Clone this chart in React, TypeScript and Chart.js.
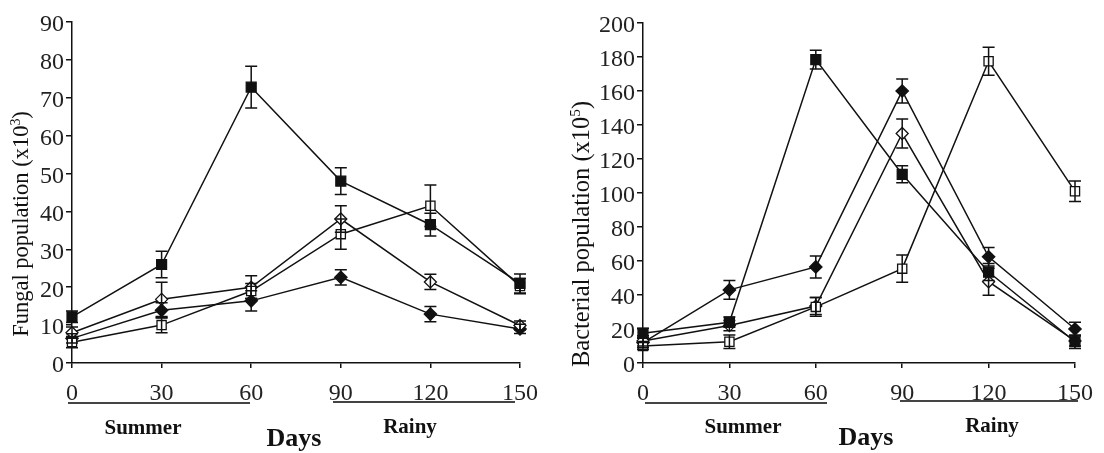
import React, { useEffect, useRef } from 'react';
import { Chart, registerables } from 'chart.js';

Chart.register(...registerables);

// ---------- data ----------
const days = [0, 30, 60, 90, 120, 150];
const dayTicks = [0, 30, 60, 90, 120, 150];

// Fungal population (x10^3)
const fungalYRange = [0, 90, 10];
const fungalSolidSquare = [12.2, 26, 72.8, 48, 36.5, 21];
const fungalSolidSquareErr = [1.5, 3.5, 5.5, 3.5, 3, 2.5];
const fungalOpenSquare = [5.5, 10, 19, 34, 41.5, 20.3];
const fungalOpenSquareErr = [1.5, 2, 2, 4, 5.5, 2];
const fungalOpenDiamond = [8, 16.8, 20, 38, 21.4, 9.9];
const fungalOpenDiamondErr = [1.5, 4.5, 3, 3.5, 2, 1.2];
const fungalSolidDiamond = [6.5, 13.9, 16.4, 22.6, 12.9, 9];
const fungalSolidDiamondErr = [1.2, 2, 2.7, 2, 2, 1.2];

// Bacterial population (x10^5)
const bactYRange = [0, 200, 20];
const bactSolidSquare = [17.5, 24, 178.5, 111, 53.5, 12.5];
const bactSolidSquareErr = [3, 3, 5.5, 5, 5, 4];
const bactOpenSquare = [10, 12.5, 33, 55.5, 177.5, 101];
const bactOpenSquareErr = [2, 4, 5.5, 8, 8.3, 6];
const bactOpenDiamond = [13, 22, 33.5, 135, 47.8, 13];
const bactOpenDiamondErr = [3, 3, 5, 8.5, 8, 3];
const bactSolidDiamond = [12, 43, 56.5, 160, 62.5, 20];
const bactSolidDiamondErr = [3, 5.5, 6.5, 7, 5.5, 4];

const seasonLabels = ['Summer', 'Rainy'];
const xTitle = 'Days';

// ---------- styles ----------
const FONT = "'Liberation Serif', 'DejaVu Serif', serif";
const INK = '#111';

const markerStyles = [
  { pointStyle: 'rect', radius: 7, fill: INK },
  { pointStyle: 'rect', radius: 6.5, fill: '#fff' },
  { pointStyle: 'rectRot', radius: 6, fill: '#fff' },
  { pointStyle: 'rectRot', radius: 6.2, fill: INK },
];

type Decor = {
  titleMain: string;
  titleSup: string;
  titleTail: string;
  titleX: number;
  titleCY: number;
  titleSize: number;
  underlines: { x1: number; x2: number; y: number }[];
  labels: { text: string; x: number; y: number; size: number }[];
};

type PanelSpec = {
  yRange: number[];
  series: number[][];
  errors: number[][];
  axisLeft: number;
  padRight: number;
  padTop: number;
  decor: Decor;
};

const panels: { left: number; spec: PanelSpec }[] = [
  {
    left: 0,
    spec: {
      yRange: fungalYRange,
      series: [fungalSolidSquare, fungalOpenSquare, fungalOpenDiamond, fungalSolidDiamond],
      errors: [fungalSolidSquareErr, fungalOpenSquareErr, fungalOpenDiamondErr, fungalSolidDiamondErr],
      axisLeft: 72,
      padRight: 32,
      padTop: 22,
      decor: {
        titleMain: 'Fungal population (x10',
        titleSup: '3',
        titleTail: ')',
        titleX: 28,
        titleCY: 224,
        titleSize: 22.5,
        underlines: [
          { x1: 68, x2: 250, y: 403 },
          { x1: 333, x2: 515, y: 402 },
        ],
        labels: [
          { text: seasonLabels[0], x: 143, y: 434, size: 21 },
          { text: seasonLabels[1], x: 410, y: 433, size: 21 },
          { text: xTitle, x: 294, y: 446, size: 26 },
        ],
      },
    },
  },
  {
    left: 552,
    spec: {
      yRange: bactYRange,
      series: [bactSolidSquare, bactOpenSquare, bactOpenDiamond, bactSolidDiamond],
      errors: [bactSolidSquareErr, bactOpenSquareErr, bactOpenDiamondErr, bactSolidDiamondErr],
      axisLeft: 91,
      padRight: 26,
      padTop: 23,
      decor: {
        titleMain: 'Bacterial population (x10',
        titleSup: '5',
        titleTail: ')',
        titleX: 37,
        titleCY: 234,
        titleSize: 24.5,
        underlines: [
          { x1: 93, x2: 275, y: 403 },
          { x1: 348, x2: 526, y: 401 },
        ],
        labels: [
          { text: seasonLabels[0], x: 191, y: 433, size: 21 },
          { text: seasonLabels[1], x: 440, y: 432, size: 21 },
          { text: xTitle, x: 314, y: 445, size: 26 },
        ],
      },
    },
  },
];

// ---------- plugins ----------
const errorBarPlugin = {
  id: 'errorBars',
  afterDatasetsDraw(chart: any) {
    const { ctx } = chart;
    const xs = chart.scales.x;
    const ys = chart.scales.y;
    ctx.save();
    ctx.strokeStyle = INK;
    ctx.lineWidth = 1.5;
    chart.data.datasets.forEach((ds: any) => {
      const errs: number[] = ds.errors;
      if (!errs) return;
      ds.data.forEach((pt: any, i: number) => {
        const px = xs.getPixelForValue(pt.x);
        const top = ys.getPixelForValue(pt.y + errs[i]);
        const bot = ys.getPixelForValue(pt.y - errs[i]);
        ctx.beginPath();
        ctx.moveTo(px, top);
        ctx.lineTo(px, bot);
        ctx.moveTo(px - 6, top);
        ctx.lineTo(px + 6, top);
        ctx.moveTo(px - 6, bot);
        ctx.lineTo(px + 6, bot);
        ctx.stroke();
      });
    });
    ctx.restore();
  },
};

function makeDecorPlugin(d: Decor) {
  return {
    id: 'decor',
    afterDraw(chart: any) {
      const { ctx } = chart;
      ctx.save();
      // underlines
      ctx.strokeStyle = '#444';
      ctx.lineWidth = 2;
      d.underlines.forEach((u) => {
        ctx.beginPath();
        ctx.moveTo(u.x1, u.y);
        ctx.lineTo(u.x2, u.y);
        ctx.stroke();
      });
      // season + axis labels
      ctx.fillStyle = INK;
      ctx.textAlign = 'center';
      ctx.textBaseline = 'alphabetic';
      d.labels.forEach((l) => {
        ctx.font = `bold ${l.size}px ${FONT}`;
        ctx.fillText(l.text, l.x, l.y);
      });
      // rotated y title with superscript
      ctx.translate(d.titleX, d.titleCY);
      ctx.rotate(-Math.PI / 2);
      ctx.textAlign = 'left';
      const mainFont = `${d.titleSize}px ${FONT}`;
      const supFont = `${d.titleSize * 0.62}px ${FONT}`;
      ctx.font = mainFont;
      const wMain = ctx.measureText(d.titleMain).width;
      const wTail = ctx.measureText(d.titleTail).width;
      ctx.font = supFont;
      const wSup = ctx.measureText(d.titleSup).width;
      const total = wMain + wSup + wTail;
      let x0 = -total / 2;
      ctx.font = mainFont;
      ctx.fillText(d.titleMain, x0, 0);
      x0 += wMain;
      ctx.font = supFont;
      ctx.fillText(d.titleSup, x0, -d.titleSize * 0.36);
      x0 += wSup;
      ctx.font = mainFont;
      ctx.fillText(d.titleTail, x0, 0);
      ctx.restore();
    },
  };
}

function buildConfig(spec: PanelSpec): any {
  const [yMin, yMax, yStep] = spec.yRange;
  return {
    type: 'line',
    data: {
      datasets: spec.series.map((vals, si) => {
        const m = markerStyles[si];
        return {
          data: vals.map((v, i) => ({ x: days[i], y: v })),
          errors: spec.errors[si],
          borderColor: INK,
          borderWidth: 1.5,
          tension: 0,
          fill: false,
          pointStyle: m.pointStyle,
          pointRadius: m.radius,
          pointBackgroundColor: m.fill,
          pointBorderColor: INK,
          pointBorderWidth: 1.3,
          clip: false,
        };
      }),
    },
    options: {
      animation: false,
      responsive: false,
      events: [],
      layout: { padding: { left: 0, right: spec.padRight, top: spec.padTop, bottom: 0 } },
      plugins: {
        legend: { display: false },
        tooltip: { enabled: false },
        title: { display: false },
      },
      scales: {
        x: {
          type: 'linear',
          min: dayTicks[0],
          max: dayTicks[dayTicks.length - 1],
          afterBuildTicks: (s: any) => {
            s.ticks = dayTicks.map((v) => ({ value: v }));
          },
          ticks: {
            font: { family: FONT, size: 24 },
            color: '#222',
            padding: 11,
            maxRotation: 0,
            autoSkip: false,
          },
          grid: { drawOnChartArea: false, tickLength: 5, color: INK, lineWidth: 1.5 },
          border: { display: true, color: INK, width: 1.5 },
          afterFit: (s: any) => {
            s.height = 90;
          },
        },
        y: {
          type: 'linear',
          min: yMin,
          max: yMax,
          ticks: {
            stepSize: yStep,
            font: { family: FONT, size: 24 },
            color: '#222',
            padding: 2,
            labelOffset: 3,
          },
          grid: { drawOnChartArea: false, tickLength: 6, color: INK, lineWidth: 1.5 },
          border: { display: true, color: INK, width: 1.5 },
          afterFit: (s: any) => {
            s.width = spec.axisLeft;
          },
        },
      },
    },
    plugins: [errorBarPlugin, makeDecorPlugin(spec.decor)],
  };
}

function Panel({ spec, left }: { spec: PanelSpec; left: number }) {
  const ref = useRef<HTMLCanvasElement | null>(null);
  useEffect(() => {
    if (!ref.current) return;
    const chart = new Chart(ref.current, buildConfig(spec));
    return () => chart.destroy();
  }, [spec]);
  return (
    <canvas
      ref={ref}
      width={552}
      height={453}
      style={{ position: 'absolute', left, top: 0, width: 552, height: 453 }}
    />
  );
}

export default function App() {
  return (
    <div
      style={{
        position: 'absolute',
        left: 0,
        top: 0,
        width: 1104,
        height: 453,
        background: '#fff',
        overflow: 'hidden',
      }}
    >
      {panels.map((p, i) => (
        <Panel key={i} spec={p.spec} left={p.left} />
      ))}
    </div>
  );
}
